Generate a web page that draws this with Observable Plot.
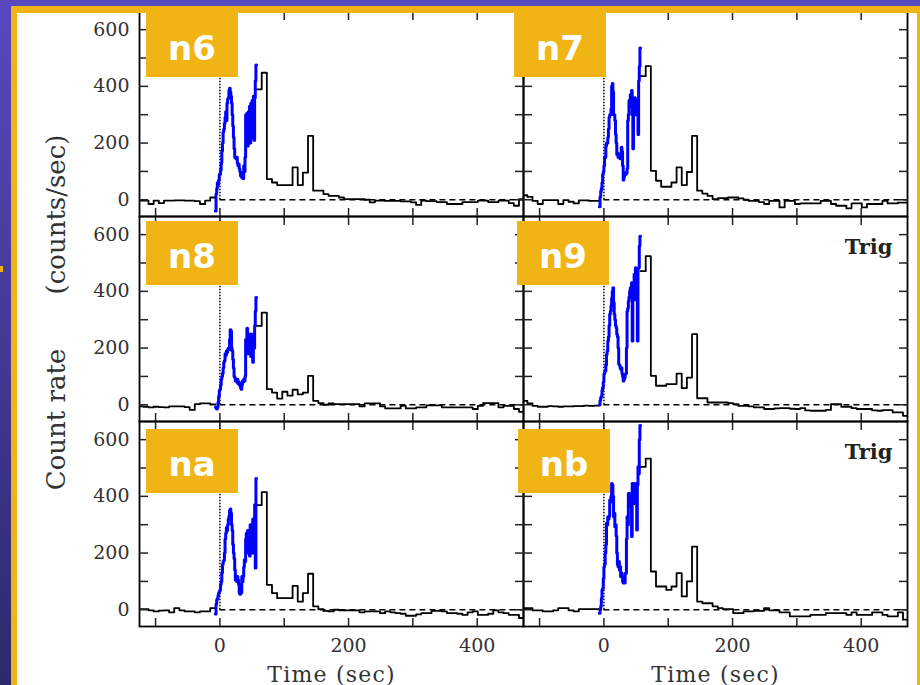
<!DOCTYPE html>
<html><head><meta charset="utf-8">
<script src="https://cdn.jsdelivr.net/npm/d3@7"></script>
<script src="https://cdn.jsdelivr.net/npm/@observablehq/plot@0.6"></script>
<style>
html,body{margin:0;padding:0;background:#fff;}
#stage{position:relative;width:920px;height:685px;overflow:hidden;background:#fff;}
#stage svg{position:absolute;left:0;top:0;}
.strip{position:absolute;}
.tag{position:absolute;width:92px;height:64px;background:#F0B515;color:#fff;font:bold 34px "DejaVu Sans",sans-serif;display:flex;align-items:center;justify-content:center;padding-top:6px;box-sizing:border-box;}
</style></head><body><div id="stage"></div>
<script>
// ---- chart values ----
const panels = ["n6","n7","n8","n9","na","nb"];
const panelCol = [0,1,0,1,0,1];
const panelRow = [0,0,1,1,2,2];
const xTicks = [-100,0,100,200,300,400];
const xTickLabels = [0,200,400];
const yTicks = [0,100,200,300,400,500,600];
const yTickLabels = [0,200,400,600];
const trigPanels = ["n9","nb"];
const triggerTime = 0;
const timeDomain = [-125, 472];
const rateDomain = [-59, 664];
const preStart = -127, preWidth = 8;
const blueStart = -7, blueWidth = 1;
const postStart = 57, postWidth = 8;

// pre-trigger (8 s bins from -127)
const pre_n6 = [-3,-3,-15,-3,-12,-3,-3,-2,-2,-3,-3,-5,-15,-3,8];
const pre_n7 = [16,10,-4,-15,-1,-1,-1,-15,-1,-7,-13,-2,-2,-4,-4];
const pre_n8 = [-6,-7,-9,-7,-8,-9,-6,-6,-6,-8,-18,2,5,5,1];
const pre_n9 = [14,5,-4,-7,-7,-5,-6,-7,-6,-6,-5,-5,-3,-4,-3];
const pre_na = [2,2,-2,-6,-3,-2,-9,6,-2,-6,-6,-9,-6,-6,6];
const pre_nb = [6,6,-2,-2,-6,-6,-2,6,6,-2,-6,2,2,2,2];

// fine-resolution burst (1 s bins from -7), blue
const blue_n6 = [-40,20,40,60,55,70,90,
 90,105,130,172,200,240,250,270,290,310,
 280,340,355,360,385,393,380,365,340,300,
 260,220,180,150,150,145,150,130,120,125,
 110,100,85,95,78,90,75,120,100,150,
 300,240,305,190,310,240,330,200,340,280,
 350,220,365,210,360,420,475];
const blue_n7 = [-25,10,30,40,60,90,100,
 120,150,150,190,200,200,220,250,290,300,
 300,320,400,410,380,300,300,280,230,200,
 160,165,150,160,150,145,160,185,170,120,
 70,80,95,90,90,95,110,280,300,350,
 330,370,340,385,300,180,350,300,360,320,
 350,300,340,230,420,470,535];
const blue_n8 = [-9,-12,-15,-10,10,30,50,
 55,70,90,100,110,130,150,155,180,175,
 190,185,195,200,195,230,265,260,200,190,
 160,130,100,95,85,90,80,90,75,80,
 70,75,60,55,70,84,80,90,84,100,
 230,200,270,220,180,240,200,250,170,240,
 190,150,250,200,280,330,378];
const blue_n9 = [0,15,26,30,50,61,80,
 108,115,120,140,178,190,225,240,280,319,
 330,350,377,400,413,360,319,300,280,272,
 249,240,200,143,140,131,125,131,110,100,
 84,90,95,108,110,200,330,340,366,380,
 400,413,390,430,225,400,380,460,370,483,
 400,470,225,480,483,560,594];
const blue_na = [-15,20,35,40,50,60,64,
 70,90,100,130,160,170,175,200,250,270,
 290,280,300,320,330,350,355,340,300,280,
 230,200,180,140,105,110,100,117,105,90,
 60,55,80,60,117,100,117,150,176,170,
 250,270,200,280,220,260,190,300,240,270,
 200,320,260,300,370,147,463];
const blue_nb = [-12,0,12,40,70,75,110,
 152,160,199,230,305,300,328,320,330,387,
 380,400,445,440,400,328,340,293,300,260,
 199,160,152,170,140,152,117,130,117,100,
 94,100,94,129,129,250,328,300,410,380,
 410,363,380,258,445,390,420,375,445,400,
 440,281,440,504,480,600,650];

// post-burst (8 s bins from 57)
const post_n6 = [389,448,73,61,52,52,52,114,52,96,225,32,32,20,14,14,
 8,2,2,2,2,0,-9,-3,-3,-4,-4,-4,-6,-6,-9,-18,-3,-5,-5,-8,-8,-15,-15,-15,-8,-8,-8,-3,-3,-8,-8,-3,-3,-12,-21,2];
const post_n7 = [436,471,102,67,46,46,61,114,52,98,225,32,22,14,2,6,
 6,8,8,5,0,-4,-4,-8,-15,-4,-4,-27,-4,-4,-15,-13,-13,-13,-13,-4,-4,-15,-21,-21,-30,-13,-13,-27,-15,-15,-15,-4,-13,-13,-10,-10];
const post_n8 = [278,325,55,43,22,46,32,53,37,43,102,14,6,0,5,2,
 2,2,2,2,-6,5,5,5,-6,-13,-13,-13,-4,-13,-13,-9,-9,-2,-2,-2,-9,-9,-9,-9,-9,-9,-15,-4,6,6,6,-9,-4,-4,-15,-25];
const post_n9 = [471,524,102,67,67,73,73,110,59,96,249,23,23,8,8,8,
 8,6,2,-4,-4,-6,-9,-9,-15,-15,-13,-12,-12,-14,-15,-12,-20,-21,-21,-21,-18,2,2,-7,-7,-12,-15,-15,-15,-20,-21,-19,-19,-27,-27,-39];
const post_na = [369,415,88,59,41,41,41,84,29,59,127,12,2,-4,-6,0,
 -2,-2,-2,-2,-9,-6,-6,-6,-12,-6,-9,-12,-14,-21,-21,-16,-12,-12,-4,-4,-6,-12,-12,-14,-18,-9,-6,-18,-18,-14,-2,-9,-12,-18,-18,-29];
const post_nb = [504,533,135,82,82,70,82,129,47,100,223,29,23,23,12,6,
 2,2,-12,-12,-6,-6,-4,-4,6,-2,-2,-9,-9,-23,-23,-23,-23,-18,-18,-18,-12,-12,-12,-12,-18,-9,-18,-18,-18,-9,-9,-18,-23,-23,-9,-35];

// ---- tables built from the arrays ----
const preData = {n6:pre_n6,n7:pre_n7,n8:pre_n8,n9:pre_n9,na:pre_na,nb:pre_nb};
const blueData = {n6:blue_n6,n7:blue_n7,n8:blue_n8,n9:blue_n9,na:blue_na,nb:blue_nb};
const postData = {n6:post_n6,n7:post_n7,n8:post_n8,n9:post_n9,na:post_na,nb:post_nb};

function stepRows(values, start, width, p, seg) {
  const i0 = panels.indexOf(p);
  const rows = values.map((v, i) => ({panel: p, z: p + seg, col: panelCol[i0], row: panelRow[i0], t: start + i * width, v}));
  rows.push({panel: p, z: p + seg, col: panelCol[i0], row: panelRow[i0], t: start + values.length * width, v: values[values.length - 1]});
  return rows;
}
const blackRows = panels.flatMap(p => [
  ...stepRows(preData[p], preStart, preWidth, p, "pre"),
  ...stepRows(postData[p], postStart, postWidth, p, "post")
]);
const blueRows = panels.flatMap(p => stepRows(blueData[p], blueStart, blueWidth, p, "blue"));
const bottomCells = [0,1].map(c => ({col: c, row: 2}));
const trigCells = trigPanels.map(p => ({col: panelCol[panels.indexOf(p)], row: panelRow[panels.indexOf(p)]}));
const yLabelParts = [{text: "Count rate", col: 0, row: 1}, {text: "(counts/sec)", col: 0, row: 0}];

const serif = "DejaVu Serif";
const chart = Plot.plot({
  width: 920, height: 685,
  marginLeft: 138, marginRight: 13, marginTop: 9.5, marginBottom: 58,
  style: {background: "transparent", fontFamily: serif, fontSize: "19px", color: "#222"},
  fx: {domain: [0,1], padding: 0, axis: null},
  fy: {domain: [0,1,2], padding: 0, axis: null},
  x: {domain: timeDomain},
  y: {domain: rateDomain},
  marks: [
    Plot.ruleY([0], {x1: triggerTime, x2: timeDomain[1], stroke: "black", strokeWidth: 1.4, strokeDasharray: "6,4"}),
    Plot.ruleX([triggerTime], {y1: 0, y2: rateDomain[1], stroke: "black", strokeWidth: 1.5, strokeDasharray: "1.5,1.5"}),
    Plot.line(blackRows, {x: "t", y: "v", z: "z", fx: "col", fy: "row", curve: "step-after", stroke: "black", strokeWidth: 1.8, clip: true}),
    Plot.line(blueRows, {x: "t", y: "v", z: "z", fx: "col", fy: "row", curve: "step-after", stroke: "#0000ff", strokeWidth: 3, clip: true}),
    Plot.frame({stroke: "black", strokeWidth: 1.8}),
    Plot.axisY(yTicks, {anchor: "left", tickSize: -9, strokeWidth: 1.5, tickFormat: () => "", label: null, facetAnchor: null}),
    Plot.axisY(yTicks, {anchor: "right", tickSize: -9, strokeWidth: 1.5, tickFormat: () => "", label: null, facetAnchor: null}),
    Plot.axisX(xTicks, {anchor: "bottom", tickSize: -8, strokeWidth: 1.5, tickFormat: () => "", label: null, facetAnchor: null}),
    Plot.axisX(xTicks, {anchor: "top", tickSize: -8, strokeWidth: 1.5, tickFormat: () => "", label: null, facetAnchor: null}),
    Plot.axisY(yTickLabels, {anchor: "left", tickSize: 0, tickPadding: 10, label: null, fontSize: 19, fill: "#333"}),
    Plot.axisX(xTickLabels, {anchor: "bottom", tickSize: 0, tickPadding: 12, label: null, fontSize: 19, fill: "#333"}),
    Plot.text(bottomCells, {fx: "col", fy: "row", text: () => "Time (sec)", frameAnchor: "bottom", dy: 55, fontSize: 22, fill: "#333"}),
    Plot.text(yLabelParts, {fx: "col", fy: "row", text: "text", frameAnchor: "bottom-left", textAnchor: "middle", dx: -75, dy: -2, rotate: -90, fontSize: 26, fill: "#333"}),
    Plot.text(trigCells, {fx: "col", fy: "row", text: () => "Trig", frameAnchor: "top-right", dx: -15, dy: 23, textAnchor: "end", fontSize: 21, fontWeight: "bold", fill: "#222"})
  ]
});

const stage = document.getElementById("stage");
stage.appendChild(chart);
d3.select(chart).selectAll("text").filter(function() { return this.textContent === "Time (sec)"; }).attr("letter-spacing", 1.2);

// ---- slide decoration ----
function strip(l, t, w, h, bg) {
  const d = document.createElement("div");
  d.className = "strip";
  Object.assign(d.style, {left: l + "px", top: t + "px", width: w + "px", height: h + "px", background: bg});
  stage.appendChild(d);
}
strip(0, 0, 920, 6, "#5A4AC0");
strip(0, 0, 11, 685, "linear-gradient(to bottom,#5849BE,#2D2A6C)");
strip(11, 6, 909, 7, "#F0B515");
strip(11, 6, 6, 679, "#F0B515");
strip(916.5, 6, 3.5, 679, "#F0B515");
strip(0, 266, 3, 6, "#F0B515");

const tagPos = {n6: [146, 13], n7: [514, 13], n8: [146, 221], n9: [517, 221], na: [146, 429], nb: [518, 429]};
panels.forEach(p => {
  const d = document.createElement("div");
  d.className = "tag";
  d.textContent = p;
  d.style.left = tagPos[p][0] + "px";
  d.style.top = tagPos[p][1] + "px";
  stage.appendChild(d);
});
</script></body></html>
